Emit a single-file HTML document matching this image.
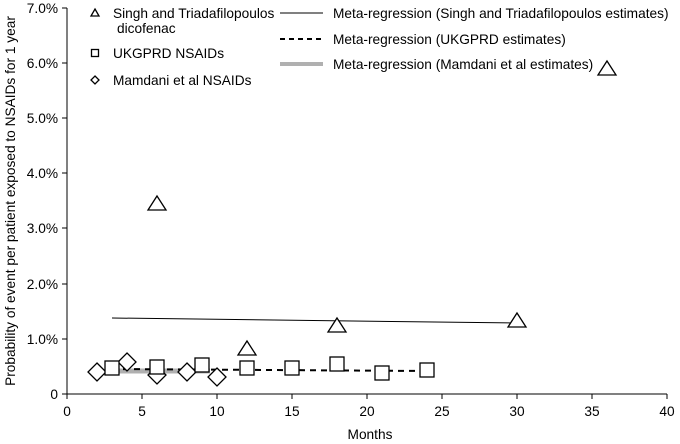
<!DOCTYPE html>
<html><head><style>body{margin:0;background:#fff}svg{display:block}text{font-family:"Liberation Sans",Arial,sans-serif;font-size:13.7px;fill:#000}</style></head><body>
<svg width="680" height="444" viewBox="0 0 680 444">
<g stroke="#000" stroke-width="1" fill="none">
<line x1="67" y1="8" x2="67" y2="394"/>
<line x1="67" y1="394" x2="667" y2="394"/>
<line x1="62" y1="8" x2="67" y2="8"/><line x1="62" y1="63" x2="67" y2="63"/><line x1="62" y1="118" x2="67" y2="118"/><line x1="62" y1="173" x2="67" y2="173"/><line x1="62" y1="228" x2="67" y2="228"/><line x1="62" y1="284" x2="67" y2="284"/><line x1="62" y1="339" x2="67" y2="339"/><line x1="62" y1="394" x2="67" y2="394"/>
<line x1="67" y1="394" x2="67" y2="399"/><line x1="142" y1="394" x2="142" y2="399"/><line x1="217" y1="394" x2="217" y2="399"/><line x1="292" y1="394" x2="292" y2="399"/><line x1="367" y1="394" x2="367" y2="399"/><line x1="442" y1="394" x2="442" y2="399"/><line x1="517" y1="394" x2="517" y2="399"/><line x1="592" y1="394" x2="592" y2="399"/><line x1="667" y1="394" x2="667" y2="399"/>
</g>
<g text-anchor="end">
<text x="58" y="13">7.0%</text><text x="58" y="68">6.0%</text><text x="58" y="123">5.0%</text><text x="58" y="178">4.0%</text><text x="58" y="233">3.0%</text><text x="58" y="289">2.0%</text><text x="58" y="344">1.0%</text><text x="58" y="399">0</text>
</g>
<g text-anchor="middle">
<text x="67" y="416">0</text><text x="142" y="416">5</text><text x="217" y="416">10</text><text x="292" y="416">15</text><text x="367" y="416">20</text><text x="442" y="416">25</text><text x="517" y="416">30</text><text x="592" y="416">35</text><text x="667" y="416">40</text>
<text x="370" y="439">Months</text>
<text transform="translate(15,201) rotate(-90)">Probability of event per patient exposed to NSAIDs for 1 year</text>
</g>
<line x1="112" y1="318" x2="517" y2="323" stroke="#000" stroke-width="1"/>
<line x1="119" y1="371" x2="210" y2="371" stroke="#b0b0b0" stroke-width="5"/>
<line x1="112" y1="369" x2="427" y2="371" stroke="#000" stroke-width="2" stroke-dasharray="6,5"/>
<g fill="#fff" stroke="#000" stroke-width="1.3">
<path d="M157 196 L166 210 L148 210Z"/>
<path d="M247 341 L256 355 L238 355Z"/>
<path d="M337 318 L346 332 L328 332Z"/>
<path d="M517 313 L526 327 L508 327Z"/>
<path d="M607 61 L616 75 L598 75Z"/>
<path d="M97 363 L106 372 L97 381 L88 372Z"/>
<path d="M127 353 L136 362 L127 371 L118 362Z"/>
<path d="M157 366 L166 375 L157 384 L148 375Z"/>
<path d="M187 363 L196 372 L187 381 L178 372Z"/>
<path d="M217 368 L226 377 L217 386 L208 377Z"/>
<rect x="105" y="361" width="14" height="14"/>
<rect x="150" y="360" width="14" height="14"/>
<rect x="195" y="358" width="14" height="14"/>
<rect x="240" y="361" width="14" height="14"/>
<rect x="285" y="361" width="14" height="14"/>
<rect x="330" y="357" width="14" height="14"/>
<rect x="375" y="366" width="14" height="14"/>
<rect x="420" y="363" width="14" height="14"/>
<path d="M95 9 L99 16 L91 16Z"/>
<rect x="91.5" y="49.5" width="7" height="7"/>
<path d="M95 76 L99 80 L95 84 L91 80Z"/>
</g>
<text x="113" y="18">Singh and Triadafilopoulos</text>
<text x="117" y="33">dicofenac</text>
<text x="113" y="58">UKGPRD NSAIDs</text>
<text x="113" y="85">Mamdani et al NSAIDs</text>
<line x1="280" y1="13" x2="323" y2="13" stroke="#000" stroke-width="1"/>
<line x1="280" y1="39" x2="323" y2="39" stroke="#000" stroke-width="2" stroke-dasharray="5,4"/>
<line x1="280" y1="64" x2="323" y2="64" stroke="#b0b0b0" stroke-width="4"/>
<text x="333" y="18">Meta-regression (Singh and Triadafilopoulos estimates)</text>
<text x="333" y="44">Meta-regression (UKGPRD estimates)</text>
<text x="333" y="69">Meta-regression (Mamdani et al estimates)</text>
</svg>
</body></html>
